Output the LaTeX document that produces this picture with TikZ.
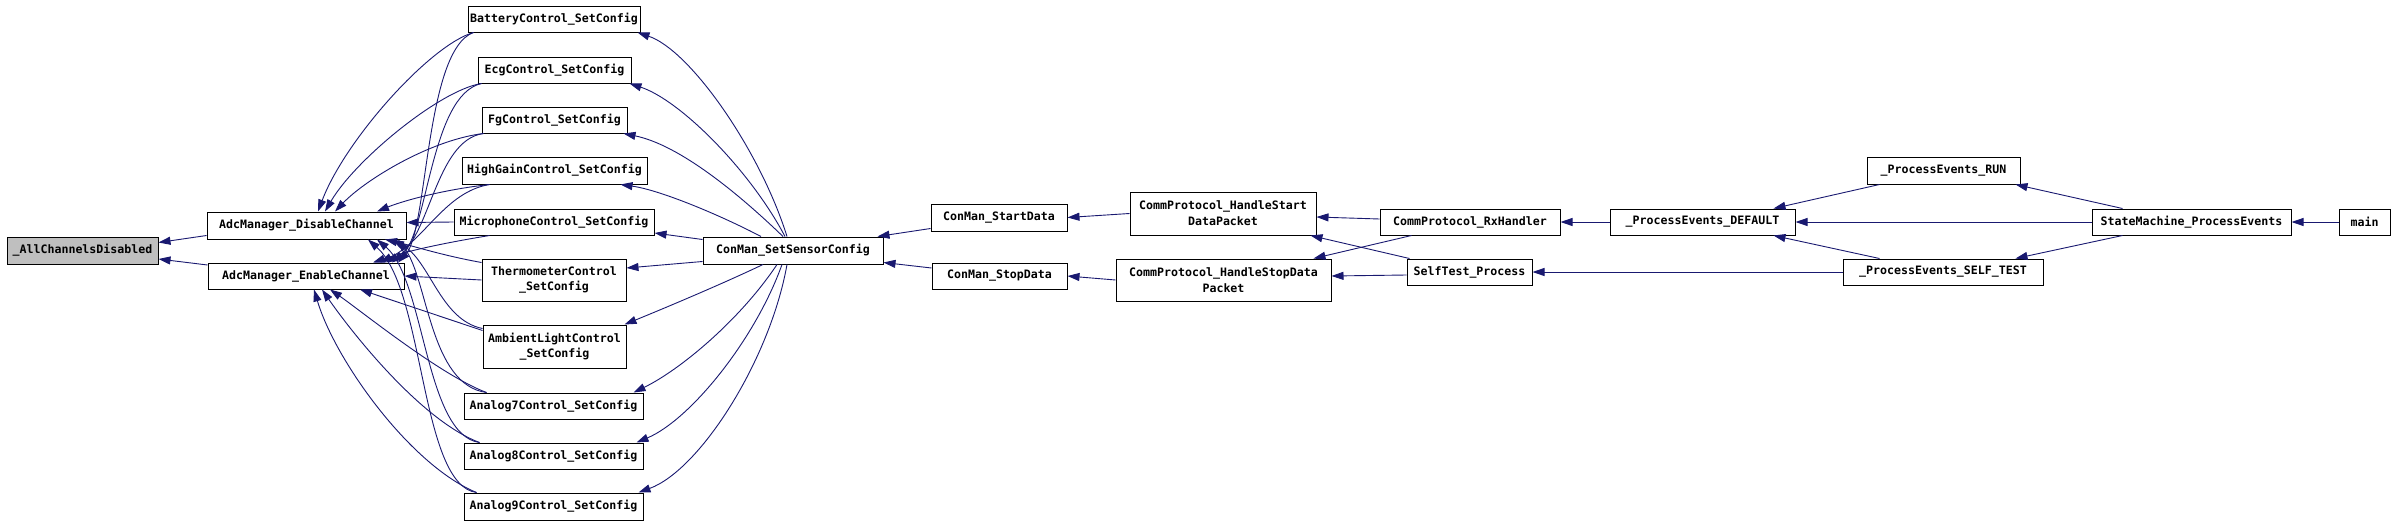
\documentclass[tikz,border=0pt]{standalone}
\usepackage{fontspec}
\setmonofont{DejaVu Sans Mono}
\usetikzlibrary{arrows.meta}
\definecolor{edgeblue}{HTML}{191970}
\definecolor{selgray}{HTML}{BFBFBF}

\begin{document}
\begin{tikzpicture}[x=1pt,y=-1pt,
  fn/.style={draw=black,line width=1pt,fill=white,inner sep=0pt,minimum height=26pt,align=center,
    font=\fontsize{11.6}{15.7}\selectfont\ttfamily\bfseries},
  call/.style={draw=edgeblue,line width=0.9pt,-{Triangle[length=12pt,width=8pt]}}]
\useasboundingbox (0,0) rectangle (2395,525);
% nodes, left to right
\node[fn,minimum width=151pt,minimum height=27pt,fill=selgray] (allch) at (82.5,250.5) {\_AllChannelsDisabled};
\node[fn,minimum width=199pt,minimum height=27pt] (disable) at (306.5,225.5) {AdcManager\_DisableChannel};
\node[fn,minimum width=196pt] (enable) at (306,276) {AdcManager\_EnableChannel};
\node[fn,minimum width=172pt] (battery) at (554,19) {BatteryControl\_SetConfig};
\node[fn,minimum width=153pt] (ecg) at (554.5,70) {EcgControl\_SetConfig};
\node[fn,minimum width=145pt] (fg) at (554.5,120) {FgControl\_SetConfig};
\node[fn,minimum width=185pt,minimum height=27pt] (highgain) at (554.5,170.5) {HighGainControl\_SetConfig};
\node[fn,minimum width=200pt] (micro) at (554,222) {MicrophoneControl\_SetConfig};
\node[fn,minimum width=144pt,minimum height=42pt] (thermo) at (554,280) {ThermometerControl\\\_SetConfig};
\node[fn,minimum width=143pt,minimum height=43pt] (ambient) at (554.5,346.5) {AmbientLightControl\\\_SetConfig};
\node[fn,minimum width=179pt] (analogvii) at (553.5,406) {Analog7Control\_SetConfig};
\node[fn,minimum width=179pt] (analogviii) at (553.5,456) {Analog8Control\_SetConfig};
\node[fn,minimum width=179pt,minimum height=27pt] (analogix) at (553.5,506.5) {Analog9Control\_SetConfig};
\node[fn,minimum width=180pt,minimum height=27pt] (setsensor) at (793,250.5) {ConMan\_SetSensorConfig};
\node[fn,minimum width=136pt,minimum height=27pt] (startdata) at (999,217.5) {ConMan\_StartData};
\node[fn,minimum width=135pt] (stopdata) at (999.5,276) {ConMan\_StopData};
\node[fn,minimum width=186pt,minimum height=43pt] (hstart) at (1223,213.5) {CommProtocol\_HandleStart\\DataPacket};
\node[fn,minimum width=215pt,minimum height=42pt] (hstop) at (1223.5,280) {CommProtocol\_HandleStopData\\Packet};
\node[fn,minimum width=180pt] (rxhandler) at (1470,222) {CommProtocol\_RxHandler};
\node[fn,minimum width=125pt] (selftest) at (1469.5,272) {SelfTest\_Process};
\node[fn,minimum width=185pt] (pedefault) at (1702.5,222) {\_ProcessEvents\_DEFAULT};
\node[fn,minimum width=153pt,minimum height=27pt] (perun) at (1943.5,170.5) {\_ProcessEvents\_RUN};
\node[fn,minimum width=200pt] (peselftest) at (1943,272) {\_ProcessEvents\_SELF\_TEST};
\node[fn,minimum width=199pt] (smevents) at (2191.5,222) {StateMachine\_ProcessEvents};
\node[fn,minimum width=51pt] (main) at (2364.5,222) {main};
% callers of the two AdcManager functions
\draw[call] ([yshift=-10pt]disable.west) -- ([yshift=8pt]allch.east);
\draw[call] ([yshift=11pt]enable.west) -- ([yshift=-8.5pt]allch.east);
\draw[call] ([xshift=6pt]battery.south west) .. controls (430,45) and (345,140) .. ([xshift=11.5pt]disable.north);
\draw[call] ([xshift=4pt]ecg.south west) .. controls (440,90) and (355,160) .. ([xshift=18.5pt]disable.north);
\draw[call] ([xshift=2pt]fg.south west) .. controls (430,140) and (365,180) .. ([xshift=28.5pt]disable.north);
\draw[call] ([xshift=28pt]highgain.south west) .. controls (440,190) and (400,202) .. ([xshift=70.5pt]disable.north);
\draw[call] (micro.west) -- ([yshift=3pt]disable.east);
\draw[call] ([yshift=-4pt]thermo.north west) .. controls (440,255) and (410,245) .. ([xshift=78.5pt]disable.south);
\draw[call] ([yshift=-4pt]ambient.north west) .. controls (440,320) and (430,260) .. ([xshift=85.5pt]disable.south);
\draw[call] ([xshift=23pt]analogvii.north west) .. controls (430,385) and (428,280) .. ([xshift=91.5pt]disable.south);
\draw[call] ([xshift=16pt]analogviii.north west) .. controls (425,435) and (425,280) .. ([xshift=70.5pt]disable.south);
\draw[call] ([xshift=13pt]analogix.north west) .. controls (420,485) and (425,290) .. ([xshift=61.5pt]disable.south);
\draw[call] ([xshift=6pt]battery.south west) .. controls (425,50) and (428,230) .. ([xshift=92pt]enable.north);
\draw[call] ([xshift=4pt]ecg.south west) .. controls (430,95) and (428,235) .. ([xshift=86pt]enable.north);
\draw[call] ([xshift=2pt]fg.south west) .. controls (435,140) and (430,240) .. ([xshift=80pt]enable.north);
\draw[call] ([xshift=28pt]highgain.south west) .. controls (445,192) and (425,240) .. ([xshift=74pt]enable.north);
\draw[call] ([xshift=36pt]micro.south west) .. controls (450,242) and (410,250) .. ([xshift=67pt]enable.north);
\draw[call] (thermo.west) -- (enable.east);
\draw[call] ([yshift=-6pt]ambient.north west) -- ([xshift=54pt]enable.south);
\draw[call] ([xshift=23pt]analogvii.north west) .. controls (440,375) and (360,310) .. ([xshift=24pt]enable.south);
\draw[call] ([xshift=16pt]analogviii.north west) .. controls (420,420) and (350,330) .. ([xshift=16pt]enable.south);
\draw[call] ([xshift=13pt]analogix.north west) .. controls (410,465) and (335,360) .. ([xshift=8pt]enable.south);
% ConMan_SetSensorConfig fans out to the sensor controls
\draw[call] ([xshift=-6pt]setsensor.north) .. controls (760,150) and (690,50) .. ([xshift=-3pt]battery.south east);
\draw[call] ([xshift=-8pt]setsensor.north) .. controls (750,170) and (680,100) .. ([xshift=-2pt]ecg.south east);
\draw[call] ([xshift=-10pt]setsensor.north) .. controls (740,195) and (680,145) .. ([xshift=-4pt]fg.south east);
\draw[call] ([xshift=-32pt]setsensor.north) .. controls (720,215) and (660,190) .. ([xshift=-27pt]highgain.south east);
\draw[call] ([yshift=-3pt]setsensor.north west) -- ([yshift=-11pt]micro.east);
\draw[call] ([yshift=3pt]setsensor.south west) -- ([yshift=12pt]thermo.east);
\draw[call] ([xshift=-30pt]setsensor.south) .. controls (720,285) and (660,310) .. ([xshift=-2pt]ambient.north east);
\draw[call] ([xshift=-16pt]setsensor.south) .. controls (740,320) and (680,370) .. ([xshift=-10pt]analogvii.north east);
\draw[call] ([xshift=-11pt]setsensor.south) .. controls (755,340) and (690,420) .. ([xshift=-7pt]analogviii.north east);
\draw[call] ([xshift=-6pt]setsensor.south) .. controls (770,360) and (700,470) .. ([xshift=-5pt]analogix.north east);
% protocol and state machine chain
\draw[call] ([yshift=-11pt]startdata.west) -- ([xshift=-6pt]setsensor.north east);
\draw[call] ([yshift=8pt]stopdata.west) -- ([yshift=2pt]setsensor.south east);
\draw[call] (hstart.west) -- (startdata.east);
\draw[call] (hstop.west) -- (stopdata.east);
\draw[call] ([yshift=3pt]rxhandler.west) -- ([yshift=-3.5pt]hstart.east);
\draw[call] ([xshift=32pt]rxhandler.south west) -- ([xshift=-18pt]hstop.north east);
\draw[call] ([xshift=3pt]selftest.north west) -- ([xshift=-6pt]hstart.south east);
\draw[call] ([yshift=-3pt]selftest.west) -- ([yshift=4pt]hstop.east);
\draw[call] (pedefault.west) -- (rxhandler.east);
\draw[call] (peselftest.west) -- (selftest.east);
\draw[call] ([xshift=13pt]perun.south west) -- ([xshift=-22pt]pedefault.north east);
\draw[call] ([xshift=37pt]peselftest.north west) -- ([xshift=-22pt]pedefault.south east);
\draw[call] (smevents.west) -- (pedefault.east);
\draw[call] ([xshift=31pt]smevents.north west) -- ([xshift=-5pt]perun.south east);
\draw[call] ([xshift=31pt]smevents.south west) -- ([xshift=-28pt]peselftest.north east);
\draw[call] (main.west) -- (smevents.east);
\end{tikzpicture}
\end{document}
